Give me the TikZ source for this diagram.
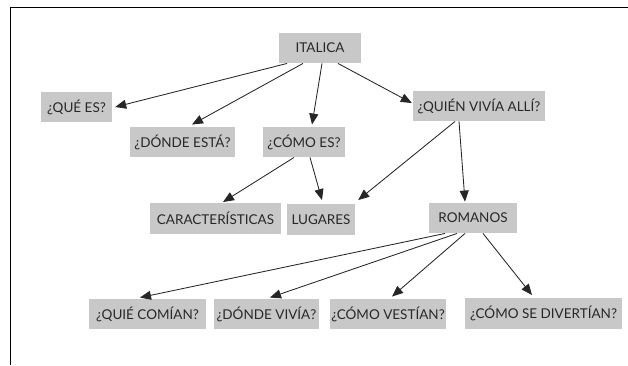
\documentclass[tikz,border=0pt]{standalone}
\usepackage{fontspec}
\setmainfont{Lato}
\usetikzlibrary{arrows.meta}
\definecolor{boxgray}{RGB}{200,200,200}
\definecolor{txtgray}{RGB}{40,40,40}
\tikzset{
  qbox/.style={fill=boxgray, text=txtgray, inner sep=0pt, minimum height=30.5pt, font=\fontsize{13.5}{15}\selectfont},
  arr/.style={-{Triangle[length=11pt,width=9pt]}, line width=0.85pt, black!85},
}
\begin{document}
\begin{tikzpicture}[x=1pt,y=-1pt]
\useasboundingbox (0,0) rectangle (628,365);
\draw[line width=1.3pt] (10.5,365) -- (10.5,7.5) -- (628,7.5);

\node[qbox, minimum width=82pt] (italica) at (320,48) {ITALICA};
\node[qbox, minimum width=71pt] (quees) at (76.5,107) {¿QUÉ ES?};
\node[qbox, minimum width=105pt] (donde) at (182.5,142) {¿DÓNDE ESTÁ?};
\node[qbox, minimum width=82pt] (comoes) at (304,142) {¿CÓMO ES?};
\node[qbox, minimum width=132pt] (quien) at (479,106) {¿QUIÉN VIVÍA ALLÍ?};
\node[qbox, minimum width=131pt] (carac) at (215.5,218.5) {CARACTERÍSTICAS};
\node[qbox, minimum width=68pt] (lugares) at (321,219.5) {LUGARES};
\node[qbox, minimum width=88pt] (romanos) at (473,218) {ROMANOS};
\node[qbox, minimum width=117pt] (comian) at (147.5,314) {¿QUIÉ COMÍAN?};
\node[qbox, minimum width=105pt] (vivia) at (266.5,314) {¿DÓNDE VIVÍA?};
\node[qbox, minimum width=116pt] (vestian) at (388,314) {¿CÓMO VESTÍAN?};
\node[qbox, minimum width=157pt] (divertian) at (543.5,313.5) {¿CÓMO SE DIVERTÍAN?};

\draw[arr] ([xshift=-33pt]italica.south) -- ([xshift=3pt]quees.east);
\draw[arr] ([xshift=-17pt]italica.south) -- ([xshift=9.5pt,yshift=2pt]donde.north);
\draw[arr] ([xshift=2pt]italica.south) -- ([xshift=8pt,yshift=2pt]comoes.north);
\draw[arr] ([xshift=18pt]italica.south) -- ([xshift=-1pt,yshift=3pt]quien.west);
\draw[arr] ([xshift=-10pt]comoes.south) -- ([xshift=7.5pt,yshift=1pt]carac.north);
\draw[arr] ([xshift=6pt]comoes.south) -- ([xshift=1pt,yshift=4pt]lugares.north);
\draw[arr] ([xshift=-24pt]quien.south) -- ([xshift=3pt,yshift=4pt]lugares.north east);
\draw[arr] ([xshift=-20pt]quien.south) -- ([xshift=-8pt,yshift=1pt]romanos.north);
\draw[arr] ([xshift=-28pt]romanos.south) -- ([xshift=-7.5pt,yshift=1pt]comian.north);
\draw[arr] ([xshift=-16pt]romanos.south) -- ([xshift=3.5pt,yshift=1pt]vivia.north);
\draw[arr] ([xshift=-8pt]romanos.south) -- ([xshift=4pt,yshift=2pt]vestian.north);
\draw[arr] ([xshift=10pt]romanos.south) -- ([xshift=-11.5pt,yshift=3pt]divertian.north);
\end{tikzpicture}
\end{document}
